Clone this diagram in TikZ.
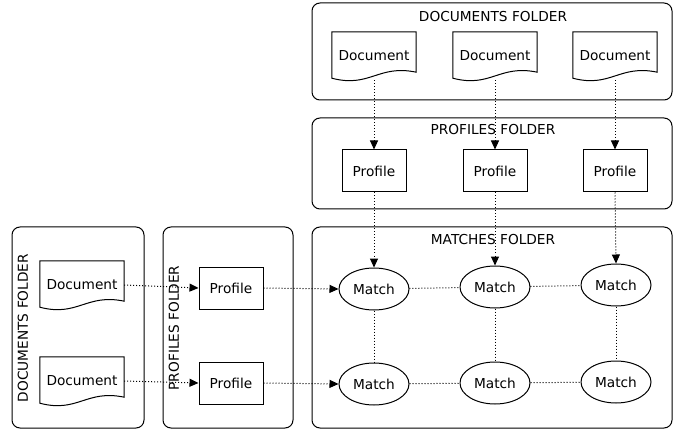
\documentclass[tikz,border=0pt]{standalone}
\usepackage{fontspec}
\setmainfont{DejaVu Sans}
\usepackage{tikz}
\usetikzlibrary{arrows.meta,shapes.geometric,positioning}
\tikzstyle{every node} = [font=\fontsize{13.7}{16}\selectfont]
\tikzstyle{folder} = [draw, line width=1pt, rounded corners=8pt]
\tikzstyle{link} = [line width=1pt, dash pattern=on 1pt off 2pt]
\tikzstyle{arrow} = [link, -{Triangle[length=9pt,width=8pt]}]
\tikzstyle{profNode} = [shape = rectangle, draw, line width=1pt, minimum width=64, minimum height=42]
\tikzstyle{matchNode} = [shape = ellipse, draw, line width=1pt, minimum width=70, minimum height=42, inner sep=0]
\tikzstyle{docNode} = [minimum width=84, minimum height=48, inner sep=0,
	append after command={\pgfextra{
		\draw[line width=1pt] (\tikzlastnode.north west) -- (\tikzlastnode.north east)
			-- ([yshift=8pt]\tikzlastnode.south east)
			.. controls ([xshift=-38pt,yshift=16pt]\tikzlastnode.south east) and ([xshift=38pt,yshift=-8pt]\tikzlastnode.south west) ..
			([yshift=2pt]\tikzlastnode.south west) -- cycle;
	}}]

\begin{document}
\begin{tikzpicture}[x=1pt, y=-1pt]
			\useasboundingbox (0,0) rectangle (674,430);
			% folders
			\draw[folder] (312,3) rectangle (672,100);
			\draw[folder] (312,118) rectangle (672,209);
			\draw[folder] (312,227) rectangle (672,428);
			\draw[folder] (12,227) rectangle (144,428);
			\draw[folder] (163,227) rectangle (293,428);
			\node (titleDocs) at (493,17) {DOCUMENTS FOLDER};
			\node (titleProfs) at (493,130) {PROFILES FOLDER};
			\node (titleMatches) at (493,240) {MATCHES FOLDER};
			\node (titleDocsLeft) at (23,328) [rotate=90] {DOCUMENTS FOLDER};
			\node (titleProfsLeft) at (174,328) [rotate=90] {PROFILES FOLDER};
			% top columns
			\node (docA) at (374,56) [docNode] {Document};
			\node (docB) at (495,56) [docNode] {Document};
			\node (docC) at (615,56) [docNode] {Document};
			\node (profA) at (374,171) [profNode] {Profile};
			\node (profB) at (495,171) [profNode] {Profile};
			\node (profC) at (615,171) [profNode] {Profile};
			% left rows
			\node (docD) at (82,285) [docNode] {Document};
			\node (docE) at (82,381) [docNode] {Document};
			\node (profD) at (231,288) [profNode] {Profile};
			\node (profE) at (231,383) [profNode] {Profile};
			% matches
			\node (matchA) at (374,289) [matchNode] {Match};
			\node (matchB) at (495,287) [matchNode] {Match};
			\node (matchC) at (616,285) [matchNode] {Match};
			\node (matchD) at (374,384) [matchNode] {Match};
			\node (matchE) at (495,383) [matchNode] {Match};
			\node (matchF) at (616,382) [matchNode] {Match};
			% connectors
			\draw[arrow] (docA.south) -- (profA.north);
			\draw[arrow] (docB.south) -- (profB.north);
			\draw[arrow] (docC.south) -- (profC.north);
			\draw[arrow] (profA.south) -- (matchA.north);
			\draw[arrow] (profB.south) -- (matchB.north);
			\draw[arrow] (profC.south) -- (matchC.north);
			\draw[arrow] (docD.east) -- (profD.west);
			\draw[arrow] (docE.east) -- (profE.west);
			\draw[arrow] (profD.east) -- (matchA.west);
			\draw[arrow] (profE.east) -- (matchD.west);
			\draw[link] (matchA) -- (matchB);
			\draw[link] (matchB) -- (matchC);
			\draw[link] (matchD) -- (matchE);
			\draw[link] (matchE) -- (matchF);
			\draw[link] (matchA) -- (matchD);
			\draw[link] (matchB) -- (matchE);
			\draw[link] (matchC) -- (matchF);
\end{tikzpicture}
\end{document}
